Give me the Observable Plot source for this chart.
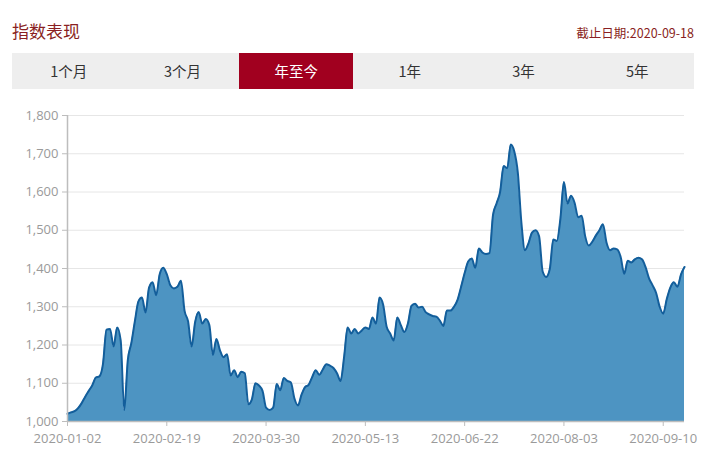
<!DOCTYPE html>
<html>
<head>
<meta charset="utf-8">
<script src="https://cdn.jsdelivr.net/npm/d3@7"></script>
<script src="https://cdn.jsdelivr.net/npm/@observablehq/plot@0.6"></script>
<style>
  html, body { margin: 0; padding: 0; background: #fff; }
  body { width: 720px; height: 464px; overflow: hidden; font-family: "Noto Sans CJK SC", "Noto Sans", sans-serif; }
  #header { position: relative; height: 100px; }
  #title { position: absolute; left: 12px; top: 18px; font-size: 17px; color: #8a1f22; }
  #asof { position: absolute; right: 26px; top: 23px; font-size: 12.5px; color: #8a1f22; }
  #tabs { position: absolute; left: 12px; top: 53px; width: 682px; height: 36px; background: #eeeeee; display: flex; }
  .tab { flex: 1; text-align: center; line-height: 36px; font-size: 14.5px; color: #333; }
  .tab.active { background: #a1001f; color: #fff; }
  #chart { position: absolute; top: 100px; left: 0; }
</style>
</head>
<body>
<div id="header">
  <div id="title"></div>
  <div id="asof"></div>
  <div id="tabs"></div>
</div>
<div id="chart"></div>
<script>
const titleText = "指数表现";
const asOfText = "截止日期:2020-09-18";
const tabLabels = ["1个月", "3个月", "年至今", "1年", "3年", "5年"];
const activeTab = "年至今";

const dates = [
  "2020-01-02","2020-01-03","2020-01-06","2020-01-07","2020-01-08","2020-01-09","2020-01-10","2020-01-13","2020-01-14","2020-01-15","2020-01-16","2020-01-17","2020-01-20","2020-01-21","2020-01-22","2020-01-23",
  "2020-02-03","2020-02-04","2020-02-05","2020-02-06","2020-02-07","2020-02-10","2020-02-11","2020-02-12","2020-02-13","2020-02-14","2020-02-17","2020-02-18","2020-02-19","2020-02-20","2020-02-21","2020-02-24","2020-02-25","2020-02-26","2020-02-27","2020-02-28",
  "2020-03-02","2020-03-03","2020-03-04","2020-03-05","2020-03-06","2020-03-09","2020-03-10","2020-03-11","2020-03-12","2020-03-13","2020-03-16","2020-03-17","2020-03-18","2020-03-19","2020-03-20","2020-03-23","2020-03-24","2020-03-25","2020-03-26","2020-03-27","2020-03-30","2020-03-31",
  "2020-04-01","2020-04-02","2020-04-03","2020-04-07","2020-04-08","2020-04-09","2020-04-10","2020-04-13","2020-04-14","2020-04-15","2020-04-16","2020-04-17","2020-04-20","2020-04-21","2020-04-22","2020-04-23","2020-04-24","2020-04-27","2020-04-28","2020-04-29","2020-04-30",
  "2020-05-06","2020-05-07","2020-05-08","2020-05-11","2020-05-12","2020-05-13","2020-05-14","2020-05-15","2020-05-18","2020-05-19","2020-05-20","2020-05-21","2020-05-22","2020-05-25","2020-05-26","2020-05-27","2020-05-28","2020-05-29",
  "2020-06-01","2020-06-02","2020-06-03","2020-06-04","2020-06-05","2020-06-08","2020-06-09","2020-06-10","2020-06-11","2020-06-12","2020-06-15","2020-06-16","2020-06-17","2020-06-18","2020-06-19","2020-06-22","2020-06-23","2020-06-24","2020-06-29","2020-06-30",
  "2020-07-01","2020-07-02","2020-07-03","2020-07-06","2020-07-07","2020-07-08","2020-07-09","2020-07-10","2020-07-13","2020-07-14","2020-07-15","2020-07-16","2020-07-17","2020-07-20","2020-07-21","2020-07-22","2020-07-23","2020-07-24","2020-07-27","2020-07-28","2020-07-29","2020-07-30","2020-07-31",
  "2020-08-03","2020-08-04","2020-08-05","2020-08-06","2020-08-07","2020-08-10","2020-08-11","2020-08-12","2020-08-13","2020-08-14","2020-08-17","2020-08-18","2020-08-19","2020-08-20","2020-08-21","2020-08-24","2020-08-25","2020-08-26","2020-08-27","2020-08-28","2020-08-31",
  "2020-09-01","2020-09-02","2020-09-03","2020-09-04","2020-09-07","2020-09-08","2020-09-09","2020-09-10","2020-09-11","2020-09-14","2020-09-15","2020-09-16","2020-09-17","2020-09-18"
];

const values = [
  1020,1024,1027,1035,1048,1065,1080,1095,1115,1118,1150,1240,1242,1196,1246,1212,
  1030,1160,1205,1262,1314,1324,1285,1350,1364,1330,1385,1402,1385,1356,1348,1352,1368,1290,1262,1196,
  1260,1286,1256,1268,1252,1174,1216,1186,1168,1176,1120,1134,1116,1130,1126,1045,1058,1100,1094,1080,1036,1030,
  1036,1098,1082,1114,1106,1102,1060,1042,1070,1090,1096,1116,1134,1122,1136,1150,1146,1140,1126,1106,1168,
  1246,1230,1242,1230,1238,1246,1242,1272,1256,1324,1306,1248,1230,1212,1272,1252,1234,1256,
  1302,1308,1298,1300,1286,1280,1276,1274,1264,1250,1290,1290,1300,1318,1352,1388,1418,1426,1402,1452,
  1442,1438,1440,1540,1570,1600,1668,1662,1724,1706,1650,1520,1448,1466,1494,1500,1484,1392,1378,1398,1476,1472,1530,
  1626,1570,1590,1572,1534,1538,1484,1460,1470,1486,1500,1516,1468,1448,1452,1450,1430,1386,1420,1416,1424,
  1428,1424,1404,1374,1356,1336,1300,1282,1320,1350,1364,1352,1384,1404
];

const xTickLabels = ["2020-01-02","2020-02-19","2020-03-30","2020-05-13","2020-06-22","2020-08-03","2020-09-10"];
const yTickValues = [1000,1100,1200,1300,1400,1500,1600,1700,1800];
const yDomain = [1000, 1800];

document.getElementById("title").textContent = titleText;
document.getElementById("asof").textContent = asOfText;
const tabs = document.getElementById("tabs");
for (const t of tabLabels) {
  const d = document.createElement("div");
  d.className = "tab" + (t === activeTab ? " active" : "");
  d.textContent = t;
  tabs.appendChild(d);
}

const data = dates.map((d, i) => ({date: d, value: values[i]}));
const fmt = d3.format(",");

const chart = Plot.plot({
  width: 720,
  height: 360,
  marginTop: 15,
  marginBottom: 39,
  marginLeft: 67,
  marginRight: 36,
  style: {fontFamily: "'Open Sans', 'Noto Sans', sans-serif", fontSize: "13px", background: "transparent"},
  x: {type: "point", domain: dates, padding: 0},
  y: {domain: yDomain},
  marks: [
    Plot.gridY(yTickValues, {stroke: "#e6e6e6", strokeOpacity: 1, strokeWidth: 1}),
    Plot.areaY(data, {x: "date", y1: yDomain[0], y2: "value", curve: "monotone-x", fill: "#4d94c2", fillOpacity: 1}),
    Plot.lineY(data, {x: "date", y: "value", curve: "monotone-x", stroke: "#135e9b", strokeWidth: 2}),
    Plot.ruleX([dates[0]], {y1: yDomain[0], y2: yDomain[1], stroke: "#bdbdbd", strokeWidth: 1.5}),
    Plot.ruleY([yDomain[0]], {stroke: "#bdbdbd", strokeWidth: 1.5}),
    Plot.axisY(yTickValues, {tickFormat: fmt, tickSize: 5, tickPadding: 4, stroke: "#bdbdbd", fill: "#9a9a9a", label: null, fontSize: 13}),
    Plot.axisX(xTickLabels, {tickSize: 5, tickPadding: 7, stroke: "#bdbdbd", fill: "#9a9a9a", label: null, fontSize: 13})
  ]
});
document.getElementById("chart").appendChild(chart);
</script>
</body>
</html>
